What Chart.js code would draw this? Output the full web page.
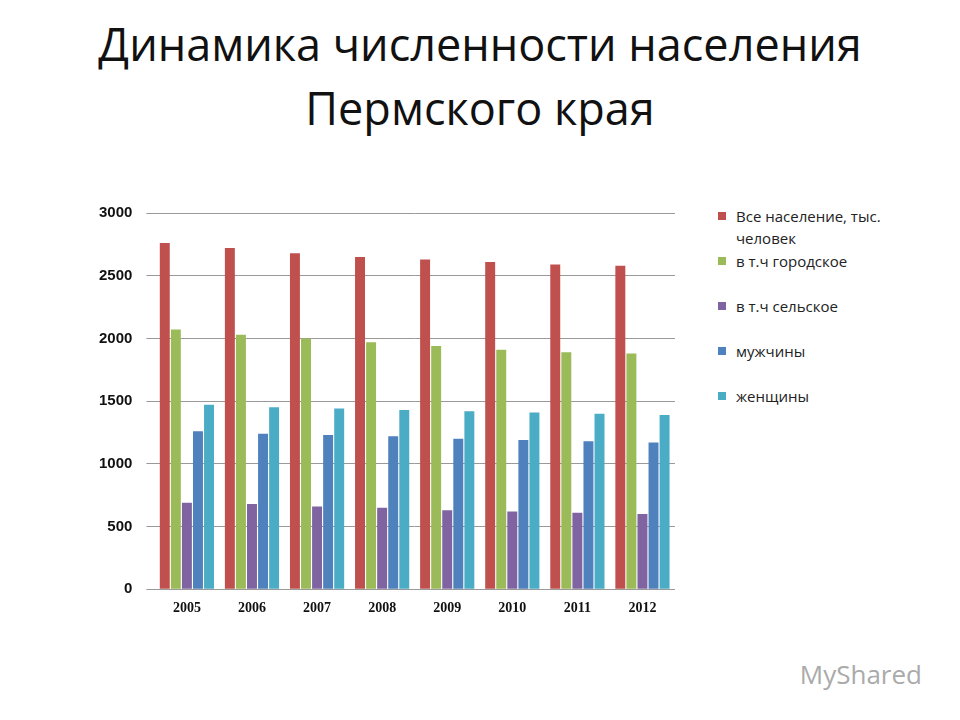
<!DOCTYPE html>
<html><head><meta charset="utf-8">
<script src="https://cdn.jsdelivr.net/npm/chart.js@4/dist/chart.umd.min.js"></script>
<style>
body{margin:0;width:960px;height:720px;background:#fff;font-family:"Open Sans",sans-serif;position:relative;overflow:hidden}
#title{position:absolute;top:12px;left:0;width:960px;text-align:center;font-size:45px;line-height:64px;color:#111}
#wrap{position:absolute;left:85px;top:190px;width:590px;height:430px}
#legend{position:absolute;left:718px;top:205px;font-size:15px;color:#222}
.li{position:relative;padding-left:18px;height:45px;line-height:22px}
.sw{position:absolute;left:0;top:7px;width:8px;height:8px}
#wm{position:absolute;right:38px;bottom:28px;font-size:26px;color:#aaa}
</style></head><body>
<div id="title">Динамика численности населения<br>Пермского края</div>
<div id="wrap"><canvas id="c"></canvas></div>
<div id="legend"></div>
<div id="wm">MyShared</div>
<script>
const years=["2005","2006","2007","2008","2009","2010","2011","2012"];
const total=[2760,2720,2680,2650,2630,2610,2590,2580];
const urban=[2070,2030,2000,1970,1940,1910,1890,1880];
const rural=[690,680,660,650,630,620,610,600];
const men=[1260,1240,1230,1220,1200,1190,1180,1170];
const women=[1470,1450,1440,1430,1420,1410,1400,1390];
const names=["Все население, тыс. человек","в т.ч городское","в т.ч сельское","мужчины","женщины"];
const colors=["#C0504D","#9BBB59","#8064A2","#4F81BD","#4BACC6"];
const series=[total,urban,rural,men,women];
const lg=document.getElementById('legend');
names.forEach((n,i)=>{const d=document.createElement('div');d.className='li';
d.innerHTML='<span class="sw" style="background:'+colors[i]+'"></span>'+(i==0?'Все население, тыс.<br>человек':n);lg.appendChild(d);});
new Chart(document.getElementById('c'),{type:'bar',
data:{labels:years,datasets:series.map((s,i)=>({label:names[i],data:s,backgroundColor:colors[i],borderColor:colors[i]}))},
options:{responsive:true,maintainAspectRatio:false,animation:false,
plugins:{legend:{display:false},tooltip:{enabled:false}},
datasets:{bar:{categoryPercentage:0.85,barPercentage:0.9}},
scales:{y:{min:0,max:3000,ticks:{stepSize:500,padding:14,font:{size:15,weight:'bold'},color:'#111',callback:v=>String(v)},grid:{color:'#999'},border:{display:false}},
x:{ticks:{font:{family:'Liberation Serif',size:14,weight:'bold'},color:'#111'},grid:{display:false},border:{color:'#999'}}}}});
</script></body></html>
